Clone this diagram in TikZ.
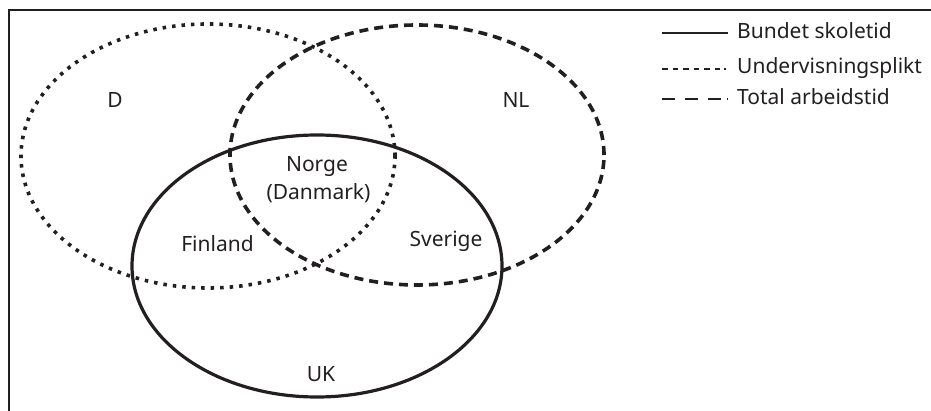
\documentclass[tikz,border=0pt]{standalone}
\usepackage{fontspec}
\setmainfont{Noto Sans}
\usepackage{tikz}
\usetikzlibrary{positioning, calc}
\definecolor{inkcolor}{RGB}{35, 31, 32}

\tikzset{
    solidline/.style={line width=3.2pt, draw=inkcolor},
    dottedline/.style={line width=3.6pt, draw=inkcolor, dash pattern=on 3.5pt off 6pt},
    dashedline/.style={line width=3.6pt, draw=inkcolor, dash pattern=on 9pt off 6pt},
    txtlabel/.style={font=\fontsize{21}{25}\selectfont, text=inkcolor, inner sep=0pt, anchor=base}
}

\begin{document}
\begin{tikzpicture}[x=1pt, y=-1pt]
    \useasboundingbox (0,0) rectangle (931,411);

    % Frame
    \draw[line width=2pt, draw=inkcolor] (8.5,411) -- (8.5,10) -- (931,10);

    % Undervisningsplikt (D)
    \draw[dottedline] (208,156) ellipse [x radius=187pt, y radius=132pt];
    % Total arbeidstid (NL)
    \draw[dashedline] (417,155) ellipse [x radius=187pt, y radius=130pt];
    % Bundet skoletid (UK)
    \draw[solidline] (317,266) ellipse [x radius=185pt, y radius=131pt];

    % Countries
    \node[txtlabel] (d) at (115,108) {D};
    \node[txtlabel] (nl) at (516,108) {NL};
    \node[txtlabel] (norge) at (317,172) {Norge};
    \node[txtlabel] (danmark) at (318.5,200) {(Danmark)};
    \node[txtlabel] (finland) at (217.5,252) {Finland};
    \node[txtlabel] (sverige) at (446,247) {Sverige};
    \node[txtlabel] (uk) at (321,381) {UK};

    % Legend
    \node[txtlabel, anchor=base west] (lbundet) at (737,39) {Bundet skoletid};
    \node[txtlabel, anchor=base west] (lunder) at (737,74) {Undervisningsplikt};
    \node[txtlabel, anchor=base west] (ltotal) at (737,105) {Total arbeidstid};
    \draw[solidline, line width=2pt] ($(lbundet.base west)+(-75,-6)$) -- ($(lbundet.base west)+(-9,-6)$);
    \draw[dottedline, line width=2pt, dash pattern=on 5.5pt off 5pt on 5.5pt off 5pt on 5.5pt off 5pt on 5.5pt off 5pt on 5.5pt off 5pt on 5.5pt off 4pt on 2pt off 20pt] ($(lunder.base west)+(-75,-5)$) -- ($(lunder.base west)+(-9,-5)$);
    \draw[dashedline, line width=2pt, dash pattern=on 13pt off 10pt on 13pt off 10pt on 13pt off 6pt on 2pt off 20pt] ($(ltotal.base west)+(-75,-6)$) -- ($(ltotal.base west)+(-9,-6)$);
\end{tikzpicture}
\end{document}
